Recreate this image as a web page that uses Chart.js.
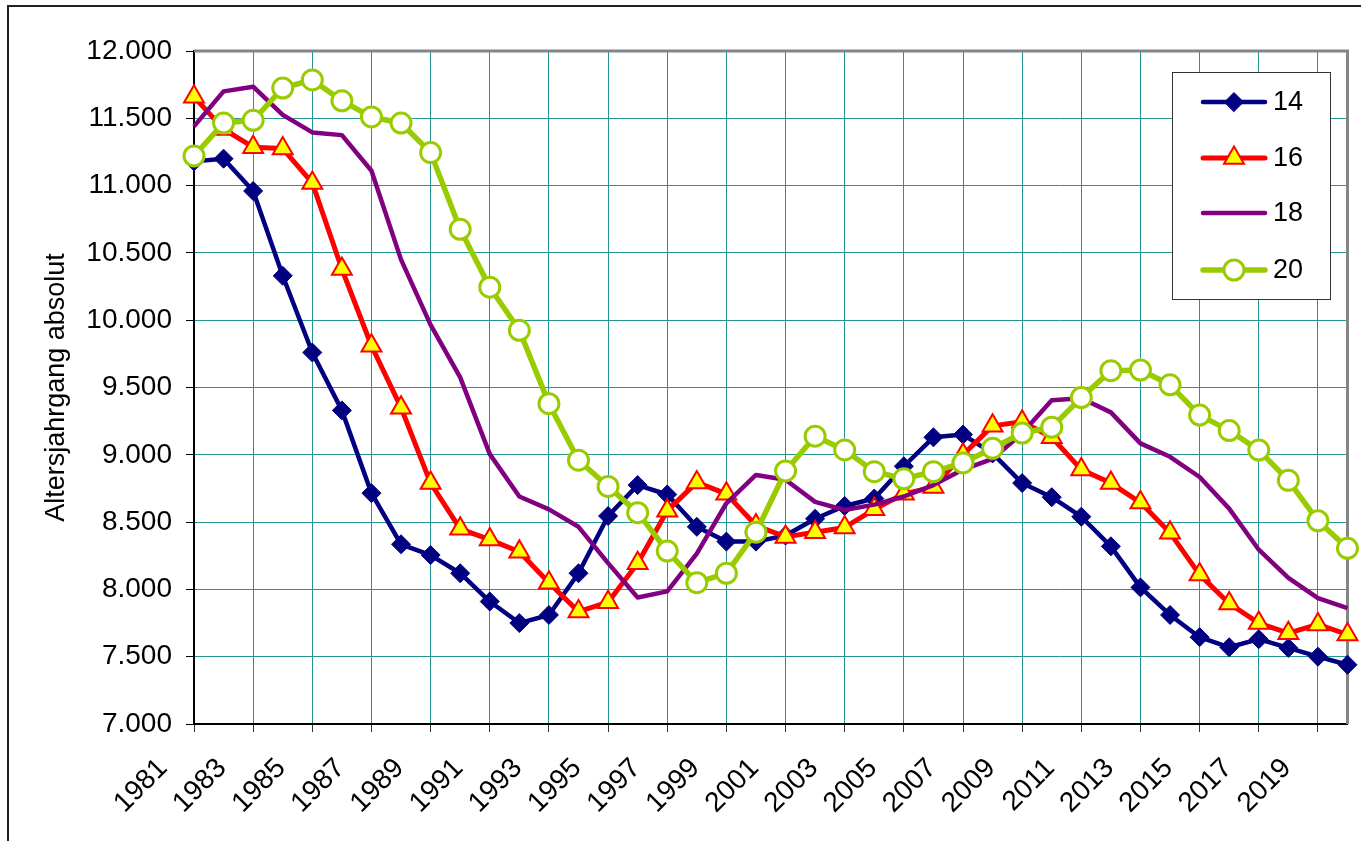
<!DOCTYPE html>
<html>
<head>
<meta charset="utf-8">
<script src="https://cdn.jsdelivr.net/npm/chart.js@4/dist/chart.umd.min.js"></script>
<style>
html,body{margin:0;padding:0;background:#fff;}
#wrap{width:1361px;height:841px;position:relative;overflow:hidden;}
canvas{display:block;}
</style>
</head>
<body>
<div id="wrap"><canvas id="c" width="1361" height="841"></canvas></div>
<script>
const years = ['1981','1982','1983','1984','1985','1986','1987','1988','1989','1990',
  '1991','1992','1993','1994','1995','1996','1997','1998','1999','2000',
  '2001','2002','2003','2004','2005','2006','2007','2008','2009','2010',
  '2011','2012','2013','2014','2015','2016','2017','2018','2019','2020'];

const series14 = [11180,11200,10960,10330,9760,9330,8715,8335,8255,8120,
  7910,7750,7810,8120,8545,8775,8705,8465,8355,8355,
  8400,8525,8620,8675,8915,9130,9150,9010,8790,8685,
  8540,8320,8015,7810,7645,7570,7630,7565,7500,7440];

const series16 = [11660,11420,11285,11275,11020,10380,9810,9350,8790,8450,
  8370,8280,8050,7835,7905,8195,8585,8795,8710,8475,
  8390,8425,8460,8595,8710,8760,9000,9215,9245,9130,
  8890,8790,8645,8420,8110,7895,7750,7675,7740,7665];

const series18 = [11440,11700,11735,11525,11395,11375,11110,10450,9965,9575,
  9005,8690,8595,8465,8195,7940,7985,8265,8640,8850,
  8815,8650,8590,8630,8690,8775,8890,8970,9160,9405,
  9420,9315,9085,8985,8835,8600,8295,8085,7935,7860];

const series20 = [11220,11465,11485,11725,11785,11630,11510,11465,11245,10675,
  10245,9925,9380,8960,8765,8570,8285,8050,8120,8425,
  8880,9138,9036,8875,8822,8875,8940,9048,9162,9205,
  9425,9625,9630,9520,9295,9180,9035,8810,8510,8305];

const seriesNames = ['14','16','18','20'];
const yTickValues = [7000,7500,8000,8500,9000,9500,10000,10500,11000,11500,12000];
const yAxisTitle = 'Altersjahrgang absolut';

const FONT = "'Liberation Sans', Arial, Helvetica, sans-serif";
const GRID = '#259494';

function fmt(v){
  const s = String(Math.round(v));
  return s.length > 3 ? s.slice(0, s.length-3) + '.' + s.slice(-3) : s;
}

const decor = {
  id: 'decor',
  beforeDraw(chart){
    const ctx = chart.ctx;
    ctx.save();
    ctx.fillStyle = '#fff';
    ctx.fillRect(0,0,chart.width,chart.height);
    ctx.restore();
  },
  beforeDatasetsDraw(chart){
    const {ctx, chartArea:a} = chart;
    ctx.save();
    ctx.strokeStyle = '#858585';
    ctx.lineWidth = 3;
    ctx.beginPath();
    ctx.moveTo(a.left, a.top);
    ctx.lineTo(a.right, a.top);
    ctx.lineTo(a.right, a.bottom);
    ctx.stroke();
    ctx.restore();
  },
  afterDraw(chart){
    const ctx = chart.ctx;
    ctx.save();
    // outer frame
    ctx.strokeStyle = '#222';
    ctx.lineWidth = 2;
    ctx.strokeRect(8, 6, 1500, 1000);
    // legend
    const L = {x:1172, y:72, w:158, h:227, rows:[102,158,213,270], x1:1203, x2:1265, tx:1273};
    ctx.fillStyle = '#fff';
    ctx.fillRect(L.x, L.y, L.w, L.h);
    ctx.strokeStyle = '#333';
    ctx.lineWidth = 1;
    ctx.strokeRect(L.x+0.5, L.y+0.5, L.w, L.h);
    chart.data.datasets.forEach((ds, i) => {
      const y = L.rows[i];
      ctx.strokeStyle = ds.borderColor;
      ctx.lineWidth = ds.borderWidth;
      ctx.lineCap = 'round';
      ctx.beginPath();
      ctx.moveTo(L.x1, y);
      ctx.lineTo(L.x2, y);
      ctx.stroke();
      if (ds.pointRadius > 0) {
        ctx.fillStyle = ds.pointBackgroundColor;
        ctx.strokeStyle = ds.pointBorderColor;
        ctx.lineWidth = ds.pointBorderWidth;
        Chart.helpers.drawPoint(ctx, {pointStyle: ds.pointStyle, radius: ds.pointRadius, borderWidth: ds.pointBorderWidth, rotation: 0}, (L.x1+L.x2)/2, y);
      }
      ctx.fillStyle = '#000';
      ctx.font = '27px ' + FONT;
      ctx.textAlign = 'left';
      ctx.textBaseline = 'middle';
      ctx.fillText(ds.label, L.tx, y + 1);
    });
    ctx.restore();
  }
};

new Chart(document.getElementById('c'), {
  type: 'line',
  data: {
    labels: years,
    datasets: [
      {label: seriesNames[0], data: series14, borderColor:'#000080', backgroundColor:'#000080', borderWidth:4.5,
        pointStyle:'rectRot', pointRadius:9.5, pointBorderWidth:1, pointBackgroundColor:'#000080', pointBorderColor:'#000080',
        order:3, tension:0, borderJoinStyle:'round'},
      {label: seriesNames[1], data: series16, borderColor:'#ff0000', backgroundColor:'#ff0000', borderWidth:5,
        pointStyle:'triangle', pointRadius:11.5, pointBorderWidth:2, pointBackgroundColor:'#ffff00', pointBorderColor:'#ff0000',
        order:2, tension:0, borderJoinStyle:'round'},
      {label: seriesNames[2], data: series18, borderColor:'#800080', backgroundColor:'#800080', borderWidth:4.5,
        pointRadius:0, pointHoverRadius:0, order:1, tension:0, borderJoinStyle:'round'},
      {label: seriesNames[3], data: series20, borderColor:'#99cc00', backgroundColor:'#99cc00', borderWidth:5.5,
        pointStyle:'circle', pointRadius:10, pointBorderWidth:3, pointBackgroundColor:'#ffffff', pointBorderColor:'#99cc00',
        order:0, tension:0, borderJoinStyle:'round'}
    ]
  },
  options: {
    responsive: false,
    animation: false,
    devicePixelRatio: 1,
    layout: {padding: {left: 40, top: 51, right: 8, bottom: 0}},
    plugins: {legend: {display: false}, tooltip: {enabled: false}},
    scales: {
      x: {
        type: 'category',
        offset: false,
        grid: {
          color: c => (c.index % 2 === 0 ? GRID : 'rgba(0,0,0,0)'),
          tickColor: c => (c.index % 2 === 0 ? '#333' : 'rgba(0,0,0,0)'),
          tickLength: 8,
          lineWidth: 1
        },
        border: {color: '#000', width: 2},
        ticks: {
          autoSkip: false,
          maxRotation: 45, minRotation: 45,
          font: {size: 28, family: FONT},
          color: '#000',
          padding: 20,
          labelOffset: -31,
          callback: (v, i) => (i % 2 === 0 ? years[i] : '')
        },
        afterFit: s => { s.height = 117; s.paddingRight = 0; s.paddingLeft = 0; }
      },
      y: {
        min: yTickValues[0],
        max: yTickValues[yTickValues.length-1],
        afterBuildTicks: s => { s.ticks = yTickValues.map(v => ({value: v})); },
        grid: {color: GRID, tickColor: '#000', tickLength: 8, lineWidth: 1},
        border: {color: '#000', width: 2},
        ticks: {font: {size: 28, family: FONT}, color: '#000', padding: 14, callback: v => fmt(v)},
        title: {display: true, text: yAxisTitle, font: {size: 27, family: FONT}, color: '#000', padding: 0},
        afterFit: s => { s.width = 154; s.paddingTop = 0; s.paddingBottom = 0; }
      }
    }
  },
  plugins: [decor]
});
</script>
</body>
</html>
